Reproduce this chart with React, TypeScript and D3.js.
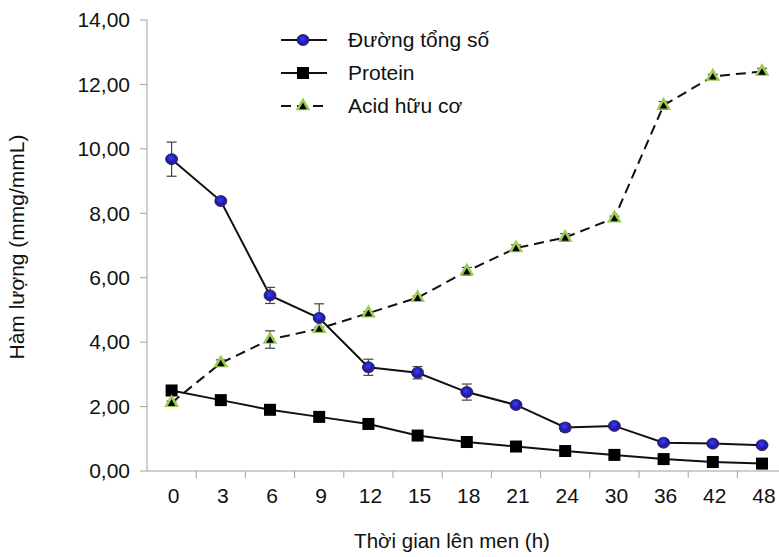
import React, { useEffect, useRef } from "react";
import * as d3 from "d3";

// time points (h)
const hours = ["0", "3", "6", "9", "12", "15", "18", "21", "24", "30", "36", "42", "48"];

// Đường tổng số
const sugar = [9.68, 8.38, 5.45, 4.75, 3.22, 3.05, 2.45, 2.05, 1.35, 1.4, 0.88, 0.85, 0.8];
const sugarErr = [0.53, 0.05, 0.25, 0.44, 0.25, 0.19, 0.25, 0.05, 0.12, 0.05, 0.05, 0.05, 0.05];

// Protein
const protein = [2.5, 2.2, 1.9, 1.68, 1.46, 1.1, 0.9, 0.76, 0.62, 0.5, 0.37, 0.28, 0.23];

// Acid hữu cơ
const acid = [2.12, 3.35, 4.08, 4.42, 4.9, 5.38, 6.2, 6.92, 7.25, 7.85, 11.35, 12.25, 12.4];
const acidErr = [0.05, 0.1, 0.27, 0.05, 0.05, 0.05, 0.12, 0.1, 0.12, 0.06, 0.12, 0.06, 0.1];

const yTicks = [0, 2, 4, 6, 8, 10, 12, 14];

const font = "'Liberation Sans', Arial, sans-serif";
const fs = 21;

export default function App() {
  const ref = useRef<SVGSVGElement>(null);

  useEffect(() => {
    const svg = d3.select(ref.current);
    svg.selectAll("*").remove();

    const width = 779;
    const height = 557;
    const left = 147;
    const top = 20;
    const bottom = 471;

    const x = d3.scaleBand().domain(hours).range([left, left + 13 * 49.2]);
    const y = d3.scaleLinear().domain([0, 14]).range([bottom, top]);
    const cx = (i: number) => (x(hours[i]) as number) + x.bandwidth() / 2;

    const defs = svg.append("defs");
    const grad = defs.append("radialGradient").attr("id", "dot").attr("cx", "45%").attr("cy", "40%").attr("r", "65%");
    grad.append("stop").attr("offset", "0%").attr("stop-color", "#3b3bff");
    grad.append("stop").attr("offset", "65%").attr("stop-color", "#1a1aa0");
    grad.append("stop").attr("offset", "100%").attr("stop-color", "#7a1aa8");

    // axes
    svg.append("line").attr("x1", left).attr("x2", left).attr("y1", top).attr("y2", bottom)
      .attr("stroke", "#a0a0a0").attr("stroke-width", 1);
    svg.append("line").attr("x1", left).attr("x2", width).attr("y1", bottom).attr("y2", bottom)
      .attr("stroke", "#a0a0a0").attr("stroke-width", 1);

    yTicks.forEach((t) => {
      svg.append("line").attr("x1", left - 7).attr("x2", left).attr("y1", y(t)).attr("y2", y(t))
        .attr("stroke", "#a0a0a0");
      svg.append("text").attr("x", 130).attr("y", y(t)).attr("dy", "0.35em")
        .attr("text-anchor", "end").attr("font-family", font).attr("font-size", fs)
        .attr("fill", "#111").text(t.toFixed(2).replace(".", ","));
    });

    for (let i = 1; i <= hours.length; i++) {
      const xx = left + i * x.step();
      if (xx > width) break;
      svg.append("line").attr("x1", xx).attr("x2", xx).attr("y1", bottom).attr("y2", bottom + 7)
        .attr("stroke", "#a0a0a0");
    }
    hours.forEach((h, i) => {
      svg.append("text").attr("x", cx(i) + 2).attr("y", 496).attr("dy", "0.35em")
        .attr("text-anchor", "middle").attr("font-family", font).attr("font-size", fs)
        .attr("fill", "#111").text(h);
    });

    svg.append("text").attr("x", 452).attr("y", 548).attr("text-anchor", "middle")
      .attr("font-family", font).attr("font-size", 20.5).attr("fill", "#111")
      .text("Thời gian lên men (h)");
    svg.append("text").attr("transform", "translate(24,247) rotate(-90)").attr("text-anchor", "middle")
      .attr("font-family", font).attr("font-size", fs).attr("fill", "#111")
      .text("Hàm lượng (mmg/mmL)");

    const line = d3.line<number>().x((d, i) => cx(i)).y((d) => y(d));

    // lines
    svg.append("path").attr("d", line(protein)).attr("fill", "none").attr("stroke", "#111").attr("stroke-width", 2);
    svg.append("path").attr("d", line(acid)).attr("fill", "none").attr("stroke", "#111").attr("stroke-width", 2)
      .attr("stroke-dasharray", "10,6");
    svg.append("path").attr("d", line(sugar)).attr("fill", "none").attr("stroke", "#111").attr("stroke-width", 2);

    // error bars
    const errBars = (vals: number[], errs: number[]) => {
      vals.forEach((v, i) => {
        const e = errs[i];
        const g = svg.append("g").attr("stroke", "#444").attr("stroke-width", 1.2);
        g.append("line").attr("x1", cx(i)).attr("x2", cx(i)).attr("y1", y(v - e)).attr("y2", y(v + e));
        g.append("line").attr("x1", cx(i) - 5).attr("x2", cx(i) + 5).attr("y1", y(v + e)).attr("y2", y(v + e));
        g.append("line").attr("x1", cx(i) - 5).attr("x2", cx(i) + 5).attr("y1", y(v - e)).attr("y2", y(v - e));
      });
    };
    errBars(sugar, sugarErr);
    errBars(acid, acidErr);

    // markers
    const square = (g: any, px: number, py: number) =>
      g.append("rect").attr("x", px - 6).attr("y", py - 6).attr("width", 12).attr("height", 12).attr("fill", "#000");
    const tri = (g: any, px: number, py: number) => {
      const big = d3.symbol().type(d3.symbolTriangle).size(95);
      const small = d3.symbol().type(d3.symbolTriangle).size(25);
      g.append("path").attr("d", big()).attr("transform", `translate(${px},${py})`).attr("fill", "#9ccc4f");
      g.append("path").attr("d", small()).attr("transform", `translate(${px},${py + 1})`).attr("fill", "#000");
    };
    const dot = (g: any, px: number, py: number) =>
      g.append("ellipse").attr("cx", px).attr("cy", py).attr("rx", 6).attr("ry", 5.5)
        .attr("fill", "url(#dot)").attr("stroke", "#1a1a40").attr("stroke-width", 0.8);

    protein.forEach((v, i) => square(svg, cx(i), y(v)));
    acid.forEach((v, i) => tri(svg, cx(i), y(v)));
    sugar.forEach((v, i) => dot(svg, cx(i), y(v)));

    // legend
    const legend = [
      { name: "Đường tổng số", y: 40, mark: dot, dash: null },
      { name: "Protein", y: 73, mark: square, dash: null },
      { name: "Acid hữu cơ", y: 106, mark: tri, dash: "10,6" },
    ];
    legend.forEach((l) => {
      svg.append("line").attr("x1", 281).attr("x2", 327).attr("y1", l.y).attr("y2", l.y)
        .attr("stroke", "#111").attr("stroke-width", 2).attr("stroke-dasharray", l.dash);
      l.mark(svg, 303, l.y);
      svg.append("text").attr("x", 348).attr("y", l.y).attr("dy", "0.35em")
        .attr("font-family", font).attr("font-size", fs).attr("fill", "#111").text(l.name);
    });

    svg.attr("width", width).attr("height", height);
  }, []);

  return (
    <svg ref={ref} width={779} height={557} style={{ position: "absolute", left: 0, top: 0, background: "#fff" }} />
  );
}
